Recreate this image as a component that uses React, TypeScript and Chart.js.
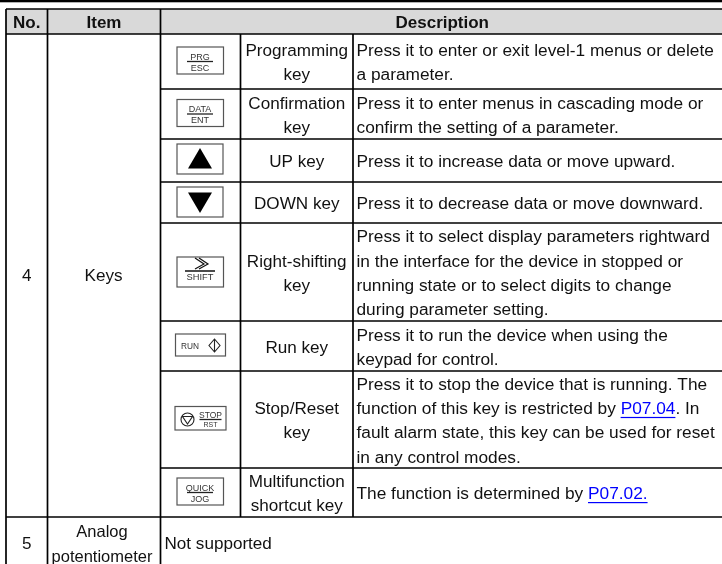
import React, { useEffect, useRef } from "react";
import { Chart, registerables } from "chart.js";

Chart.register(...registerables);

const headers = ["No.", "Item", "Description"];
const keyNames = [
  ["Programming", "key"],
  ["Confirmation", "key"],
  ["UP key"],
  ["DOWN key"],
  ["Right-shifting", "key"],
  ["Run key"],
  ["Stop/Reset", "key"],
  ["Multifunction", "shortcut key"],
];
const keyDescriptions = [
  ["Press it to enter or exit level-1 menus or delete", "a parameter."],
  ["Press it to enter menus in cascading mode or", "confirm the setting of a parameter."],
  ["Press it to increase data or move upward."],
  ["Press it to decrease data or move downward."],
  [
    "Press it to select display parameters rightward",
    "in the interface for the device in stopped or",
    "running state or to select digits to change",
    "during parameter setting.",
  ],
  ["Press it to run the device when using the", "keypad for control."],
  [
    "Press it to stop the device that is running. The",
    "function of this key is restricted by P07.04. In",
    "fault alarm state, this key can be used for reset",
    "in any control modes.",
  ],
  ["The function is determined by P07.02."],
];
const links = ["P07.04", "P07.02."];
const keyLabels = ["PRG/ESC", "DATA/ENT", "UP", "DOWN", "SHIFT", "RUN", "STOP/RST", "QUICK/JOG"];
const rowNumbers = ["4", "5"];
const rowItems = [["Keys"], ["Analog", "potentiometer"]];
const lastRowText = "Not supported";

// Layout, in the pixel units of the two hidden linear scales
const colX = [6, 47.5, 160.5, 240.5, 353, 722];
const rowY = [9, 34, 89, 139, 182, 223, 321, 371, 468, 517, 564];
const FONT = "17.1px 'Liberation Sans', Arial, sans-serif";
const DESC_FONT = "17.3px 'Liberation Sans', Arial, sans-serif";
const NARROW_FONT = "16.5px 'Liberation Sans', Arial, sans-serif";
const BOLD = "bold 17px 'Liberation Sans', Arial, sans-serif";
const LINE = 24.2;
const TEXT_DY = 2;

type Ctx = CanvasRenderingContext2D;

const small = (size: number) => `${size}px 'Liberation Sans', Arial, sans-serif`;

function keyBox(ctx: Ctx, x0: number, y0: number, x1: number, y1: number) {
  ctx.strokeStyle = "#555";
  ctx.lineWidth = 1.2;
  ctx.strokeRect(x0, y0, x1 - x0, y1 - y0);
}

function stackedKey(ctx: Ctx, cx: number, lineY: number, top: string, bottom: string, topSize: number, bottomSize: number, w: number) {
  ctx.fillStyle = "#333";
  ctx.textAlign = "center";
  ctx.textBaseline = "alphabetic";
  ctx.font = small(topSize);
  ctx.fillText(top, cx, lineY - 2);
  ctx.font = small(bottomSize);
  ctx.fillText(bottom, cx, lineY + bottomSize);
  ctx.strokeStyle = "#222";
  ctx.lineWidth = 1.3;
  ctx.beginPath();
  ctx.moveTo(cx - w / 2, lineY);
  ctx.lineTo(cx + w / 2, lineY);
  ctx.stroke();
}

function drawKey(ctx: Ctx, name: string, cx: number, mid: number) {
  if (name === "UP" || name === "DOWN") {
    const cy = name === "UP" ? mid - 1.5 : mid - 0.5;
    keyBox(ctx, cx - 23, cy - 15, cx + 23, cy + 15);
    ctx.fillStyle = "#000";
    ctx.beginPath();
    const s = name === "UP" ? 1 : -1;
    ctx.moveTo(cx, cy - 11 * s);
    ctx.lineTo(cx - 12, cy + 9.5 * s);
    ctx.lineTo(cx + 12, cy + 9.5 * s);
    ctx.closePath();
    ctx.fill();
  } else if (name === "SHIFT") {
    keyBox(ctx, cx - 23, mid - 15, cx + 23.5, mid + 15);
    ctx.strokeStyle = "#111";
    ctx.lineWidth = 1.2;
    ctx.beginPath();
    ctx.moveTo(cx - 5, mid - 14);
    ctx.lineTo(cx + 4, mid - 8);
    ctx.lineTo(cx - 5, mid - 3);
    ctx.moveTo(cx - 1, mid - 14);
    ctx.lineTo(cx + 8, mid - 8);
    ctx.lineTo(cx - 1, mid - 3);
    ctx.stroke();
    ctx.lineWidth = 1.5;
    ctx.beginPath();
    ctx.moveTo(cx - 15, mid - 1);
    ctx.lineTo(cx + 15, mid - 1);
    ctx.stroke();
    ctx.fillStyle = "#333";
    ctx.font = small(9.3);
    ctx.textAlign = "center";
    ctx.textBaseline = "alphabetic";
    ctx.fillText(name, cx, mid + 8);
  } else if (name === "RUN") {
    keyBox(ctx, cx - 24.5, mid - 12, cx + 25.5, mid + 10);
    ctx.fillStyle = "#333";
    ctx.font = small(8.3);
    ctx.textAlign = "left";
    ctx.textBaseline = "alphabetic";
    ctx.fillText(name, cx - 19, mid + 3);
    ctx.strokeStyle = "#222";
    ctx.lineWidth = 1.1;
    ctx.beginPath();
    ctx.moveTo(cx + 14.5, mid - 7);
    ctx.lineTo(cx + 20, mid - 0.5);
    ctx.lineTo(cx + 14.5, mid + 6);
    ctx.lineTo(cx + 9, mid - 0.5);
    ctx.closePath();
    ctx.moveTo(cx + 14.5, mid - 7);
    ctx.lineTo(cx + 14.5, mid + 6);
    ctx.stroke();
  } else if (name === "STOP/RST") {
    keyBox(ctx, cx - 25, mid - 13, cx + 26, mid + 10.5);
    ctx.strokeStyle = "#222";
    ctx.lineWidth = 1.1;
    ctx.beginPath();
    ctx.arc(cx - 12.5, mid, 6.5, 0, Math.PI * 2);
    ctx.moveTo(cx - 17.5, mid - 3);
    ctx.lineTo(cx - 7.5, mid - 3);
    ctx.lineTo(cx - 12.5, mid + 4.5);
    ctx.closePath();
    ctx.stroke();
    const [t, b] = name.split("/");
    stackedKey(ctx, cx + 10.5, mid, t, b, 8.5, 7, 22);
  } else {
    keyBox(ctx, cx - 23, mid - 14.5, cx + 23.5, mid + 12.5);
    const [t, b] = name.split("/");
    stackedKey(ctx, cx, mid, t, b, 9, 9, 26);
  }
}

function drawLine(ctx: Ctx, text: string, x: number, y: number) {
  // Text with an optional blue underlined link inside it
  const link = links.find((l) => text.includes(l));
  ctx.textAlign = "left";
  ctx.fillStyle = "#111";
  if (!link) {
    ctx.fillText(text, x, y);
    return;
  }
  const i = text.indexOf(link);
  const before = text.slice(0, i);
  const after = text.slice(i + link.length);
  ctx.fillText(before, x, y);
  const lx = x + ctx.measureText(before).width;
  const lw = ctx.measureText(link).width;
  ctx.fillStyle = "#0000ff";
  ctx.fillText(link, lx, y);
  ctx.fillRect(lx, y + 7.5, lw, 1.2);
  ctx.fillStyle = "#111";
  ctx.fillText(after, lx + lw, y);
}

const tablePlugin = {
  id: "table",
  afterDraw(chart: any) {
    const ctx: Ctx = chart.ctx;
    const sx = (v: number) => chart.scales.x.getPixelForValue(v);
    const sy = (v: number) => chart.scales.y.getPixelForValue(v);
    ctx.save();

    // Page rule and header band
    ctx.fillStyle = "#000";
    ctx.fillRect(sx(0), sy(0), sx(722), 2.3);
    ctx.fillStyle = "#d9d9d9";
    ctx.fillRect(sx(colX[0]), sy(rowY[0]), sx(722) - sx(colX[0]), sy(rowY[1]) - sy(rowY[0]));

    // Grid lines
    ctx.strokeStyle = "#000";
    ctx.lineWidth = 1.7;
    const seg = (x0: number, y0: number, x1: number, y1: number) => {
      ctx.beginPath();
      ctx.moveTo(sx(x0), sy(y0));
      ctx.lineTo(sx(x1), sy(y1));
      ctx.stroke();
    };
    rowY.slice(0, -1).forEach((y, i) => {
      const inner = i >= 2 && i <= 8;
      seg(inner ? colX[2] : colX[0], y, colX[5], y);
    });
    seg(colX[0], rowY[0], colX[0], rowY[10]);
    seg(colX[1], rowY[0], colX[1], rowY[10]);
    seg(colX[2], rowY[0], colX[2], rowY[10]);
    seg(colX[3], rowY[1], colX[3], rowY[9]);
    seg(colX[4], rowY[1], colX[4], rowY[9]);

    ctx.textBaseline = "middle";

    // Header
    ctx.font = BOLD;
    ctx.textAlign = "center";
    ctx.fillStyle = "#111";
    const headY = sy((rowY[0] + rowY[1]) / 2) + 1.5;
    ctx.fillText(headers[0], sx((colX[0] + colX[1]) / 2), headY);
    ctx.fillText(headers[1], sx((colX[1] + colX[2]) / 2), headY);
    ctx.fillText(headers[2], sx((colX[2] + colX[5]) / 2) + 1, headY);

    // Keys rows
    keyNames.forEach((lines, i) => {
      const top = rowY[i + 1];
      const bottom = rowY[i + 2];
      const mid = sy((top + bottom) / 2);
      ctx.textBaseline = "middle";
      ctx.font = FONT;
      ctx.textAlign = "center";
      ctx.fillStyle = "#111";
      const y0 = mid - ((lines.length - 1) * LINE) / 2 + TEXT_DY;
      lines.forEach((t, j) => ctx.fillText(t, sx((colX[3] + colX[4]) / 2), y0 + j * LINE));
      const d = keyDescriptions[i];
      const dy0 = mid - ((d.length - 1) * LINE) / 2 + TEXT_DY;
      ctx.font = DESC_FONT;
      d.forEach((t, j) => drawLine(ctx, t, sx(colX[4]) + 3.5, dy0 + j * LINE));
      ctx.save();
      drawKey(ctx, keyLabels[i], sx((colX[2] + colX[3]) / 2) - 0.5, mid);
      ctx.restore();
    });

    // Merged cells
    ctx.textBaseline = "middle";
    ctx.font = FONT;
    ctx.textAlign = "center";
    ctx.fillStyle = "#111";
    const keysMid = sy((rowY[1] + rowY[9]) / 2) + 1;
    ctx.fillText(rowNumbers[0], sx((colX[0] + colX[1]) / 2), keysMid);
    ctx.fillText(rowItems[0][0], sx((colX[1] + colX[2]) / 2) - 0.5, keysMid);
    const lastMid = sy((rowY[9] + rowY[10]) / 2) + 3.5;
    ctx.fillText(rowNumbers[1], sx((colX[0] + colX[1]) / 2), lastMid);
    ctx.font = NARROW_FONT;
    rowItems[1].forEach((t, j) =>
      ctx.fillText(t, sx((colX[1] + colX[2]) / 2) - 2, lastMid + 1 - LINE / 2 + j * LINE)
    );
    ctx.font = FONT;
    ctx.textAlign = "left";
    ctx.fillText(lastRowText, sx(colX[2]) + 4, lastMid);

    ctx.restore();
  },
};

export default function App() {
  const ref = useRef<HTMLCanvasElement>(null);
  useEffect(() => {
    const chart = new Chart(ref.current!, {
      type: "scatter",
      data: { datasets: [{ data: [], pointRadius: 0 }] },
      options: {
        animation: false,
        responsive: false,
        layout: { padding: 0 },
        plugins: { legend: { display: false }, tooltip: { enabled: false } },
        scales: {
          x: { type: "linear", min: 0, max: 722, display: false },
          y: { type: "linear", min: 0, max: 564, reverse: true, display: false },
        },
      },
      plugins: [tablePlugin],
    });
    return () => chart.destroy();
  }, []);
  return (
    <div style={{ position: "absolute", left: 0, top: 0, width: 722, height: 564, background: "#fff" }}>
      <canvas ref={ref} width={722} height={564} style={{ display: "block" }} />
    </div>
  );
}
